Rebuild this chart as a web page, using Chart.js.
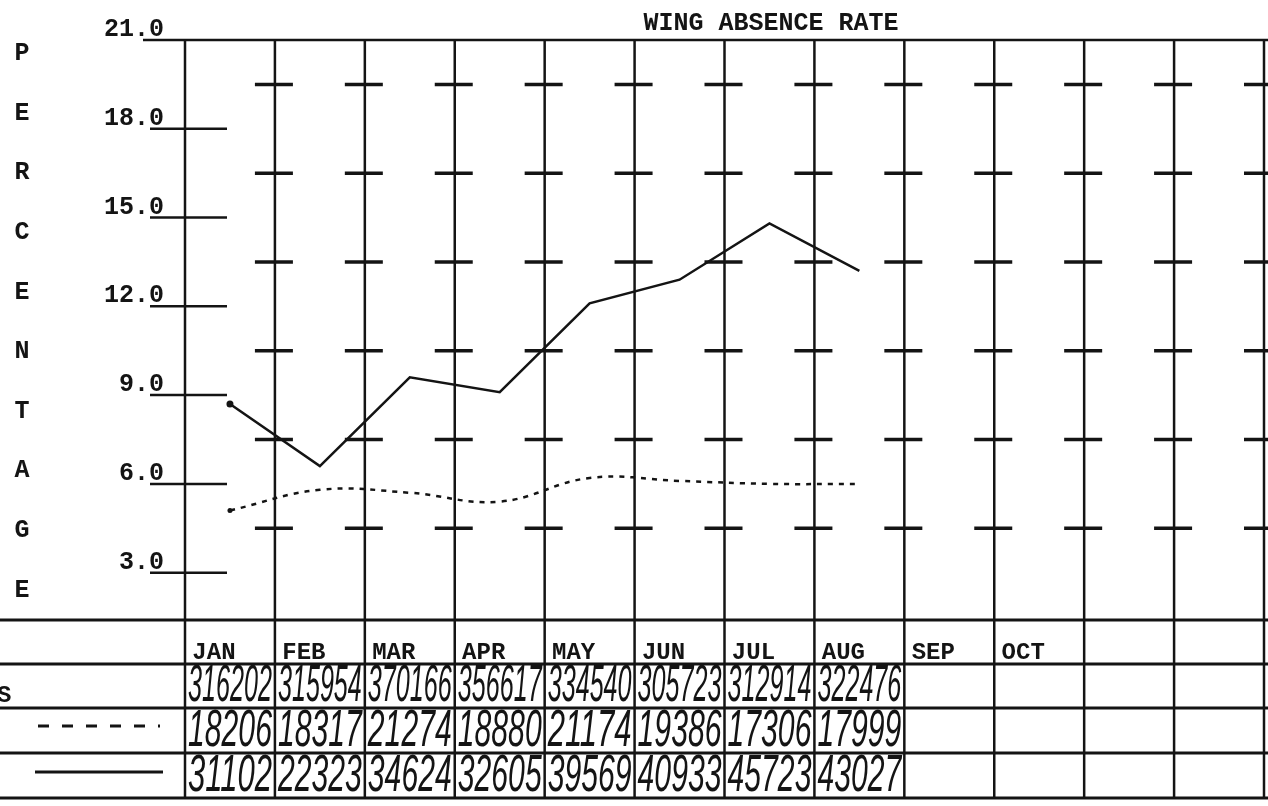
<!DOCTYPE html>
<html>
<head>
<meta charset="utf-8">
<script src="https://cdn.jsdelivr.net/npm/chart.js@4"></script>
<style>
  html, body { margin: 0; padding: 0; background: #fff; }
  canvas { display: block; }
</style>
</head>
<body>
<canvas id="rate" width="1268" height="806"></canvas>
<script>
// column labels along the table (last two columns are blank)
const months = ["JAN", "FEB", "MAR", "APR", "MAY", "JUN", "JUL", "AUG", "SEP", "OCT", "", ""];
// labelled percentages on the left, and the half steps marked with crosses
const tickValues = [3, 6, 9, 12, 15, 18, 21];
const halfSteps = [4.5, 7.5, 10.5, 13.5, 16.5, 19.5];

// plotted rates (percent)
const dashedRate = [5.1, 5.8, 5.7, 5.4, 6.2, 6.1, 6.0, 6.0];
const solidRate = [8.7, 6.6, 9.6, 9.1, 12.1, 12.9, 14.8, 13.2];

// handwritten table rows
const totalRow = ["316202", "315954", "370166", "356617", "334540", "305723", "312914", "322476"];
const dashedRow = ["18206", "18317", "21274", "18880", "21174", "19386", "17306", "17999"];
const solidRow = ["31102", "22323", "34624", "32605", "39569", "40933", "45723", "43027"];

const ink = "#141414";
const typeFont = (size) => `bold ${size}px "Liberation Mono", "DejaVu Sans Mono", monospace`;

// everything around the plot: frame, crosses, labels and the table
const sheet = {
  id: "sheet",
  beforeDatasetsDraw(chart) {
    const { ctx, chartArea: a, scales: { x, y } } = chart;
    const step = x.getPixelForValue(1) - x.getPixelForValue(0);
    const edges = [];
    for (let i = 0; i <= months.length; i++) edges.push(x.getPixelForValue(0) - step / 2 + i * step);

    const rowY = [a.bottom, a.bottom + 44, a.bottom + 88, a.bottom + 133, a.bottom + 178];

    ctx.save();
    ctx.strokeStyle = ink;
    ctx.fillStyle = ink;
    ctx.lineCap = "butt";

    // top rule (21.0 line)
    ctx.lineWidth = 2.5;
    ctx.beginPath();
    ctx.moveTo(143, a.top);
    ctx.lineTo(chart.width, a.top);
    ctx.stroke();

    // vertical lines run down through the table
    edges.forEach((ex) => {
      ctx.beginPath();
      ctx.moveTo(ex, a.top);
      ctx.lineTo(ex, rowY[4]);
      ctx.stroke();
    });

    // table rules
    ctx.lineWidth = 3;
    rowY.forEach((ry) => {
      ctx.beginPath();
      ctx.moveTo(0, ry);
      ctx.lineTo(chart.width, ry);
      ctx.stroke();
    });

    // y labels with their underline
    ctx.font = typeFont(25);
    ctx.textAlign = "right";
    ctx.textBaseline = "alphabetic";
    ctx.lineWidth = 2.5;
    tickValues.forEach((v) => {
      const py = y.getPixelForValue(v);
      ctx.fillText(v.toFixed(1), 164, py - 4);
      if (v !== 21) {
        ctx.beginPath();
        ctx.moveTo(150, py);
        ctx.lineTo(227, py);
        ctx.stroke();
      }
    });

    // crosses at the half steps
    ctx.lineWidth = 3.5;
    halfSteps.forEach((v) => {
      const py = y.getPixelForValue(v);
      for (let i = 1; i < edges.length; i++) {
        ctx.beginPath();
        ctx.moveTo(edges[i] - 20, py);
        ctx.lineTo(edges[i] + 18, py);
        ctx.stroke();
      }
    });

    // title
    ctx.textAlign = "center";
    ctx.fillText("WING ABSENCE RATE", 771, 30);

    // PERCENTAGE down the left side
    ctx.textBaseline = "middle";
    "PERCENTAGE".split("").forEach((ch, i) => {
      ctx.fillText(ch, 22, 54 + i * 59.6);
    });

    // column headers
    ctx.font = typeFont(24);
    ctx.textBaseline = "alphabetic";
    months.forEach((m, i) => {
      if (m) ctx.fillText(m, x.getPixelForValue(i) - 16, rowY[1] - 5);
    });

    // row keys on the left
    ctx.textAlign = "left";
    ctx.font = typeFont(24);
    ctx.fillText("S", -3, rowY[2] - 6);
    ctx.lineWidth = 3;
    ctx.setLineDash([11, 13]);
    ctx.beginPath();
    ctx.moveTo(38, rowY[2] + 18);
    ctx.lineTo(160, rowY[2] + 18);
    ctx.stroke();
    ctx.setLineDash([]);
    ctx.beginPath();
    ctx.moveTo(35, rowY[3] + 19);
    ctx.lineTo(163, rowY[3] + 19);
    ctx.stroke();

    // handwritten figures squeezed into their cells
    ctx.font = 'italic 52px "Liberation Sans", "DejaVu Sans", sans-serif';
    ctx.textBaseline = "bottom";
    [totalRow, dashedRow, solidRow].forEach((row, r) => {
      row.forEach((txt, i) => {
        const left = edges[i] + 3;
        const room = step - 6;
        const w = ctx.measureText(txt).width;
        const sx = room / w;
        ctx.save();
        ctx.translate(left, rowY[r + 2] + 5);
        ctx.scale(sx, 1);
        ctx.fillText(txt, 0, 0);
        ctx.restore();
      });
    });

    ctx.restore();
  }
};

const context = document.getElementById("rate").getContext("2d");
const chart = new Chart(context, {
  type: "line",
  data: {
    labels: months,
    datasets: [
      {
        label: "dashed",
        data: dashedRate,
        borderColor: ink,
        borderWidth: 2.5,
        borderDash: [5, 6],
        tension: 0.4,
        pointRadius: dashedRate.map((v, i) => (i === 0 ? 2.5 : 0)),
        pointBackgroundColor: ink,
        pointBorderWidth: 0,
        fill: false
      },
      {
        label: "solid",
        data: solidRate,
        borderColor: ink,
        borderWidth: 2.5,
        tension: 0,
        pointRadius: solidRate.map((v, i) => (i === 0 ? 3.5 : 0)),
        pointBackgroundColor: ink,
        pointBorderWidth: 0,
        fill: false
      }
    ]
  },
  options: {
    responsive: false,
    animation: false,
    devicePixelRatio: 1,
    layout: { padding: { left: 185, right: 3, top: 40, bottom: 186 } },
    plugins: { legend: { display: false }, tooltip: { enabled: false } },
    scales: {
      x: { type: "category", offset: true, display: false },
      y: { min: 1.4, max: 21, display: false }
    }
  },
  plugins: [sheet]
});
</script>
</body>
</html>
